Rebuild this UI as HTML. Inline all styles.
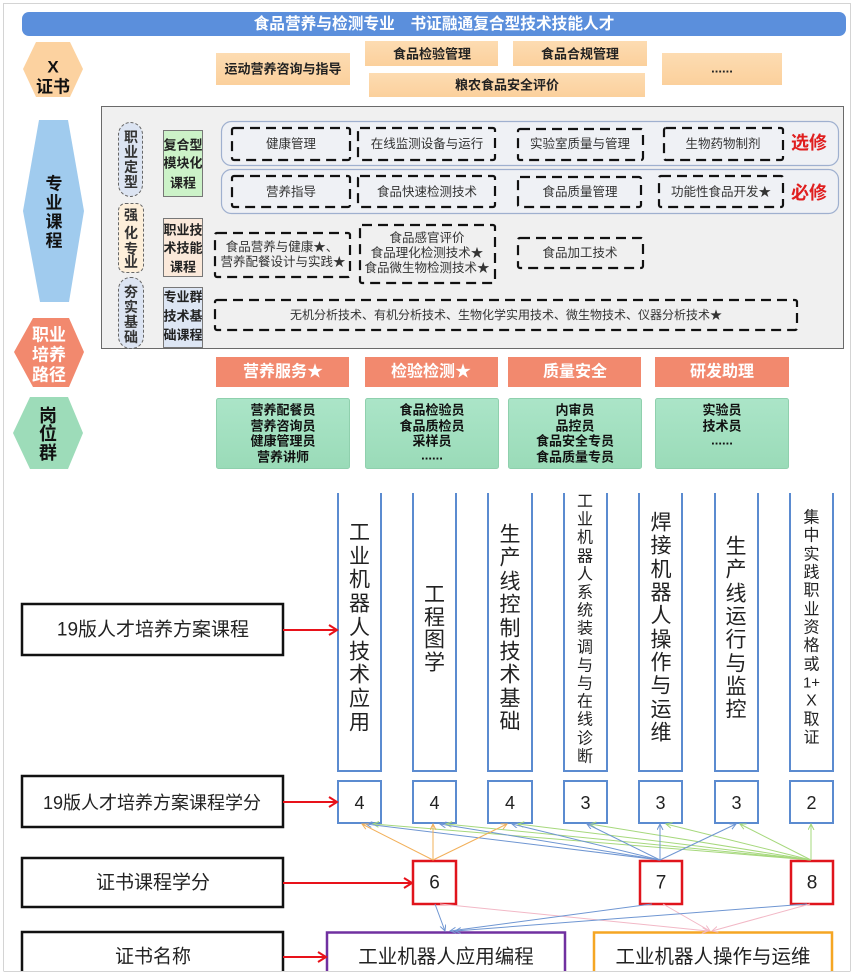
<!DOCTYPE html>
<html><head><meta charset="utf-8"><style>
html,body{margin:0;padding:0;background:#fff;}
svg{display:block;}
text{font-family:"Liberation Sans","Noto Sans CJK SC",sans-serif;}
</style></head><body>
<svg width="854" height="977" viewBox="0 0 854 977" xmlns="http://www.w3.org/2000/svg">
<defs>
<marker id="mo" markerUnits="userSpaceOnUse" markerWidth="10" markerHeight="10" refX="6" refY="3" orient="auto"><path d="M0,0 L6,3 L0,6" fill="none" stroke="#f2b05a" stroke-width="1"/></marker>
<marker id="mb" markerUnits="userSpaceOnUse" markerWidth="10" markerHeight="10" refX="6" refY="3" orient="auto"><path d="M0,0 L6,3 L0,6" fill="none" stroke="#6f96d2" stroke-width="1"/></marker>
<marker id="mg" markerUnits="userSpaceOnUse" markerWidth="10" markerHeight="10" refX="6" refY="3" orient="auto"><path d="M0,0 L6,3 L0,6" fill="none" stroke="#a6d87c" stroke-width="1"/></marker>
<marker id="mp" markerUnits="userSpaceOnUse" markerWidth="10" markerHeight="10" refX="6" refY="3" orient="auto"><path d="M0,0 L6,3 L0,6" fill="none" stroke="#f2b8c6" stroke-width="1"/></marker>
<linearGradient id="gj" x1="0" y1="0" x2="0" y2="1"><stop offset="0" stop-color="#abe5c8"/><stop offset="1" stop-color="#9adbb8"/></linearGradient>
<linearGradient id="gc" x1="0" y1="0" x2="0" y2="1"><stop offset="0" stop-color="#fddcb2"/><stop offset="1" stop-color="#fbd09c"/></linearGradient>
</defs>

<!-- outer frame -->
<rect x="3.5" y="3.5" width="847" height="968" fill="#fff" stroke="#d4d4d4" stroke-width="1"/>

<!-- title -->
<rect x="22" y="12" width="824" height="24" rx="7" fill="#5b8fdc"/>
<text x="434" y="24.5" font-size="15.7" font-weight="bold" fill="#fff" text-anchor="middle" dominant-baseline="central">食品营养与检测专业　书证融通复合型技术技能人才</text>

<!-- X 证书 -->
<polygon points="23,69 36,42 70,42 83,69 70,97 36,97" fill="#fcd2a0"/>
<text x="53" y="67" font-size="17" font-weight="bold" fill="#111" text-anchor="middle" dominant-baseline="central">X</text>
<text x="53" y="87" font-size="17" font-weight="bold" fill="#111" text-anchor="middle" dominant-baseline="central">证书</text>

<g font-size="13" font-weight="bold" fill="#222" text-anchor="middle" dominant-baseline="central">
<rect x="216" y="53" width="134" height="32" fill="url(#gc)"/>
<rect x="365" y="41" width="133" height="25" fill="url(#gc)"/>
<rect x="513" y="41" width="134" height="25" fill="url(#gc)"/>
<rect x="369" y="73" width="276" height="24" fill="url(#gc)"/>
<rect x="662" y="53" width="120" height="32" fill="url(#gc)"/>
<text x="283" y="69">运动营养咨询与指导</text>
<text x="432" y="54">食品检验管理</text>
<text x="580" y="54">食品合规管理</text>
<text x="507" y="85">粮农食品安全评价</text>
<text x="722" y="68">......</text>
</g>

<!-- 专业课程 hexagon -->
<polygon points="39,120 68,120 84,211 69,302 40,302 23,211" fill="#a0cbee"/>
<g font-size="17" font-weight="bold" fill="#111" text-anchor="middle" dominant-baseline="central">
<text x="54" y="184">专</text><text x="54" y="203">业</text><text x="54" y="222">课</text><text x="54" y="241">程</text>
</g>

<!-- panel -->
<rect x="101.5" y="106.5" width="742" height="242" fill="#f0f0f0" stroke="#6a6a6a" stroke-width="1"/>

<!-- left pills -->
<rect x="118.5" y="122.5" width="24" height="74" rx="12" fill="#dce4f2" stroke="#666" stroke-dasharray="3 2"/>
<rect x="118.5" y="203.5" width="25" height="69" rx="7" fill="#fdefda" stroke="#666" stroke-dasharray="3 2"/>
<rect x="118.5" y="277.5" width="25" height="71" rx="12" fill="#dce4f2" stroke="#666" stroke-dasharray="3 2"/>
<g font-size="14" font-weight="bold" fill="#333" text-anchor="middle" dominant-baseline="central">
<text x="131" y="137">职</text><text x="131" y="152">业</text><text x="131" y="167">定</text><text x="131" y="182">型</text>
<text x="131" y="215">强</text><text x="131" y="233">化</text><text x="131" y="249">专</text><text x="131" y="262">业</text>
<text x="131" y="292">夯</text><text x="131" y="307">实</text><text x="131" y="322">基</text><text x="131" y="337">础</text>
</g>

<!-- course type boxes -->
<rect x="163.5" y="130.5" width="39" height="66" fill="#ccf2c8" stroke="#777"/>
<rect x="163.5" y="218.5" width="39" height="58" fill="#fbe9da" stroke="#777"/>
<rect x="163.5" y="287.5" width="39" height="60" fill="#dde6f4" stroke="#777"/>
<g font-size="13" font-weight="bold" fill="#222" text-anchor="middle" dominant-baseline="central">
<text x="183" y="145">复合型</text><text x="183" y="163">模块化</text><text x="183" y="183">课程</text>
<text x="183" y="230">职业技</text><text x="183" y="248">术技能</text><text x="183" y="267">课程</text>
<text x="183" y="297">专业群</text><text x="183" y="316">技术基</text><text x="183" y="335">础课程</text>
</g>

<!-- row pills -->
<rect x="221.5" y="121.5" width="617" height="44" rx="10" fill="#eff1f5" stroke="#9fb0cf" stroke-width="1.2"/>
<rect x="221.5" y="169.5" width="617" height="44" rx="10" fill="#eff1f5" stroke="#9fb0cf" stroke-width="1.2"/>

<g fill="none" stroke="#111" stroke-width="2.2" stroke-dasharray="10 6">
<rect x="232" y="128" width="118" height="32" rx="2"/>
<rect x="358" y="128" width="137" height="32" rx="2"/>
<rect x="518" y="129" width="125" height="31" rx="2"/>
<rect x="664" y="128" width="119" height="32" rx="2"/>
<rect x="232" y="176" width="118" height="31" rx="2"/>
<rect x="358" y="176" width="137" height="31" rx="2"/>
<rect x="518" y="177" width="123" height="30" rx="2"/>
<rect x="659" y="176" width="124" height="31" rx="2"/>
<rect x="215" y="233" width="135" height="44" rx="2"/>
<rect x="360" y="225" width="135" height="58" rx="2"/>
<rect x="518" y="238" width="125" height="30" rx="2"/>
<rect x="215" y="300" width="582" height="30" rx="2"/>
</g>
<g font-size="12.5" fill="#333" text-anchor="middle" dominant-baseline="central">
<text x="291" y="144">健康管理</text>
<text x="427" y="144">在线监测设备与运行</text>
<text x="580" y="144">实验室质量与管理</text>
<text x="723" y="144">生物药物制剂</text>
<text x="291" y="192">营养指导</text>
<text x="427" y="192">食品快速检测技术</text>
<text x="580" y="192">食品质量管理</text>
<text x="721" y="192">功能性食品开发★</text>
<text x="282" y="247">食品营养与健康★、</text>
<text x="283" y="262">营养配餐设计与实践★</text>
<text x="427" y="238">食品感官评价</text>
<text x="427" y="253">食品理化检测技术★</text>
<text x="427" y="268">食品微生物检测技术★</text>
<text x="580" y="253">食品加工技术</text>
<text x="506" y="315" font-size="12">无机分析技术、有机分析技术、生物化学实用技术、微生物技术、仪器分析技术★</text>
</g>
<g font-size="18" font-weight="bold" fill="#e01e1e" text-anchor="middle" dominant-baseline="central">
<text x="809" y="143">选修</text>
<text x="809" y="193">必修</text>
</g>

<!-- 职业培养路径 -->
<polygon points="14,352 33,318 69,318 84,352 69,387 33,387" fill="#f2896e"/>
<g font-size="17" font-weight="bold" fill="#fff" text-anchor="middle" dominant-baseline="central">
<text x="49" y="335">职业</text><text x="49" y="355">培养</text><text x="49" y="375">路径</text>
</g>
<!-- 岗位群 -->
<polygon points="13,433 30,397 68,397 83,433 68,469 30,469" fill="#9ddcb9"/>
<g font-size="18" font-weight="bold" fill="#111" text-anchor="middle" dominant-baseline="central">
<text x="48" y="416">岗</text><text x="48" y="434">位</text><text x="48" y="453">群</text>
</g>

<!-- path boxes -->
<g fill="#f2896e">
<rect x="216" y="357" width="133" height="30"/>
<rect x="365" y="357" width="133" height="30"/>
<rect x="508" y="357" width="133" height="30"/>
<rect x="655" y="357" width="134" height="30"/>
</g>
<g font-size="16" font-weight="bold" fill="#fff" text-anchor="middle" dominant-baseline="central">
<text x="283" y="372">营养服务★</text>
<text x="431" y="372">检验检测★</text>
<text x="575" y="372">质量安全</text>
<text x="722" y="372">研发助理</text>
</g>

<!-- job boxes -->
<g fill="url(#gj)" stroke="#8fd0ad" stroke-width="1">
<rect x="216.5" y="398.5" width="133" height="70" rx="2"/>
<rect x="365.5" y="398.5" width="133" height="70" rx="2"/>
<rect x="508.5" y="398.5" width="133" height="70" rx="2"/>
<rect x="655.5" y="398.5" width="133" height="70" rx="2"/>
</g>
<g font-size="13" font-weight="bold" fill="#111" text-anchor="middle" dominant-baseline="central">
<text x="283" y="410">营养配餐员</text><text x="283" y="426">营养咨询员</text><text x="283" y="441">健康管理员</text><text x="283" y="457">营养讲师</text>
<text x="432" y="410">食品检验员</text><text x="432" y="426">食品质检员</text><text x="432" y="441">采样员</text><text x="432" y="455">......</text>
<text x="575" y="410">内审员</text><text x="575" y="426">品控员</text><text x="575" y="441">食品安全专员</text><text x="575" y="457">食品质量专员</text>
<text x="722" y="410">实验员</text><text x="722" y="426">技术员</text><text x="722" y="440">......</text>
</g>

<!-- ===== bottom section ===== -->
<g fill="none" stroke="#111" stroke-width="2.5">
<rect x="22" y="604" width="261" height="51"/>
<rect x="22" y="776" width="261" height="51"/>
<rect x="22" y="858" width="261" height="49"/>
<path d="M22,975 V932 H283 V975"/>
</g>
<g fill="#222" text-anchor="middle" dominant-baseline="central">
<text x="153" y="630" font-size="19">19版人才培养方案课程</text>
<text x="152" y="803" font-size="18">19版人才培养方案课程学分</text>
<text x="153" y="883" font-size="19">证书课程学分</text>
<text x="153" y="957" font-size="19">证书名称</text>
</g>

<!-- columns -->
<g fill="none" stroke="#5b8bd0" stroke-width="2">
<path d="M338,493 V771 H381 V493"/>
<path d="M413,493 V771 H456 V493"/>
<path d="M488,493 V771 H532 V493"/>
<path d="M564,493 V771 H607 V493"/>
<path d="M639,493 V771 H682 V493"/>
<path d="M715,493 V771 H758 V493"/>
<path d="M790,493 V771 H833 V493"/>
</g>
<g fill="#222" text-anchor="middle" dominant-baseline="central" font-size="21">
<text x="359.5" y="533">工</text><text x="359.5" y="557">业</text><text x="359.5" y="580">机</text><text x="359.5" y="604">器</text><text x="359.5" y="628">人</text><text x="359.5" y="652">技</text><text x="359.5" y="675">术</text><text x="359.5" y="699">应</text><text x="359.5" y="723">用</text>
<text x="434.5" y="595">工</text><text x="434.5" y="618">程</text><text x="434.5" y="640">图</text><text x="434.5" y="663">学</text>
<text x="510" y="535">生</text><text x="510" y="558">产</text><text x="510" y="582">线</text><text x="510" y="605">控</text><text x="510" y="629">制</text><text x="510" y="652">技</text><text x="510" y="675">术</text><text x="510" y="699">基</text><text x="510" y="722">础</text>
<text x="661" y="523">焊</text><text x="661" y="546">接</text><text x="661" y="570">机</text><text x="661" y="593">器</text><text x="661" y="616">人</text><text x="661" y="640">操</text><text x="661" y="663">作</text><text x="661" y="686">与</text><text x="661" y="710">运</text><text x="661" y="733">维</text>
<text x="736" y="547">生</text><text x="736" y="570">产</text><text x="736" y="594">线</text><text x="736" y="617">运</text><text x="736" y="640">行</text><text x="736" y="664">与</text><text x="736" y="687">监</text><text x="736" y="710">控</text>
</g>
<g fill="#222" text-anchor="middle" dominant-baseline="central" font-size="16">
<text x="585" y="502">工</text><text x="585" y="520">业</text><text x="585" y="538">机</text><text x="585" y="557">器</text><text x="585" y="575">人</text><text x="585" y="593">系</text><text x="585" y="611">统</text><text x="585" y="629">装</text><text x="585" y="648">调</text><text x="585" y="666">与</text><text x="585" y="684">与</text><text x="585" y="702">在</text><text x="585" y="720">线</text><text x="585" y="739">诊</text><text x="585" y="757">断</text>
<text x="811.5" y="518">集</text><text x="811.5" y="536">中</text><text x="811.5" y="555">实</text><text x="811.5" y="573">践</text><text x="811.5" y="591">职</text><text x="811.5" y="610">业</text><text x="811.5" y="628">资</text><text x="811.5" y="646">格</text><text x="811.5" y="665">或</text><text x="811.5" y="683" font-size="15">1+</text><text x="811.5" y="701" font-size="16">X</text><text x="811.5" y="720">取</text><text x="811.5" y="738">证</text>
</g>

<!-- credit boxes -->
<g fill="#fff" stroke="#5b8bd0" stroke-width="2">
<rect x="338" y="781" width="43" height="42"/>
<rect x="413" y="781" width="43" height="42"/>
<rect x="488" y="781" width="44" height="42"/>
<rect x="564" y="781" width="43" height="42"/>
<rect x="639" y="781" width="43" height="42"/>
<rect x="715" y="781" width="43" height="42"/>
<rect x="790" y="781" width="43" height="42"/>
</g>
<g fill="#222" text-anchor="middle" dominant-baseline="central" font-size="18">
<text x="359.5" y="803">4</text><text x="434.5" y="803">4</text><text x="510" y="803">4</text><text x="585.5" y="803">3</text><text x="660.5" y="803">3</text><text x="736.5" y="803">3</text><text x="811.5" y="803">2</text>
</g>

<!-- red cert credit boxes -->
<g fill="#fff" stroke="#e0141c" stroke-width="2.5">
<rect x="413" y="861" width="43" height="43"/>
<rect x="640" y="861" width="42" height="43"/>
<rect x="791" y="861" width="42" height="43"/>
</g>
<g fill="#222" text-anchor="middle" dominant-baseline="central" font-size="19">
<text x="434.5" y="883">6</text><text x="661" y="883">7</text><text x="812" y="883">8</text>
</g>

<!-- cert name boxes -->
<path d="M327,975 V932.5 H565 V975" fill="none" stroke="#7030a0" stroke-width="2.5"/>
<path d="M594,975 V932.5 H832 V975" fill="none" stroke="#f5a623" stroke-width="2.5"/>
<g fill="#222" text-anchor="middle" dominant-baseline="central" font-size="19.5">
<text x="446" y="957">工业机器人应用编程</text>
<text x="713" y="957">工业机器人操作与运维</text>
</g>

<!-- thin connectors -->
<g fill="none" stroke-width="1">
<g stroke="#a6d87c" marker-end="url(#mg)">
<line x1="811" y1="860" x2="373" y2="824"/>
<line x1="811" y1="860" x2="446" y2="824"/>
<line x1="811" y1="860" x2="518" y2="824"/>
<line x1="811" y1="860" x2="590" y2="824"/>
<line x1="811" y1="860" x2="666" y2="824"/>
<line x1="811" y1="860" x2="740" y2="824"/>
<line x1="811" y1="860" x2="811" y2="824"/>
</g>
<g stroke="#6f96d2" marker-end="url(#mb)">
<line x1="660" y1="860" x2="366" y2="824"/>
<line x1="660" y1="860" x2="440" y2="824"/>
<line x1="660" y1="860" x2="512" y2="824"/>
<line x1="660" y1="860" x2="587" y2="824"/>
<line x1="660" y1="860" x2="660" y2="824"/>
<line x1="660" y1="860" x2="736" y2="824"/>
</g>
<g stroke="#f2b05a" marker-end="url(#mo)">
<line x1="433" y1="860" x2="362" y2="824"/>
<line x1="433" y1="860" x2="433" y2="824"/>
<line x1="433" y1="860" x2="507" y2="824"/>
</g>
<g stroke="#f2b8c6" marker-end="url(#mp)">
<line x1="440" y1="904" x2="708" y2="931"/>
<line x1="663" y1="904" x2="710" y2="931"/>
<line x1="810" y1="904" x2="712" y2="931"/>
</g>
<g stroke="#6f96d2" marker-end="url(#mb)">
<line x1="435" y1="904" x2="445" y2="931"/>
<line x1="652" y1="904" x2="450" y2="931"/>
<line x1="807" y1="904" x2="455" y2="931"/>
</g>
</g>

<!-- red arrows -->
<g fill="none" stroke="#e8121a" stroke-width="2">
<line x1="283" y1="630" x2="336" y2="630"/><polyline points="329,625 337,630 329,635"/>
<line x1="283" y1="802" x2="336" y2="802"/><polyline points="329,797 337,802 329,807"/>
<line x1="283" y1="883" x2="411" y2="883"/><polyline points="404,878 412,883 404,888"/>
<line x1="283" y1="957" x2="325" y2="957"/><polyline points="318,952 326,957 318,962"/>
</g>

<!-- bottom clip strip -->
<rect x="0" y="971" width="854" height="6" fill="#fff"/>
<line x1="3.5" y1="971.5" x2="850.5" y2="971.5" stroke="#d4d4d4"/>
</svg>
</body></html>
